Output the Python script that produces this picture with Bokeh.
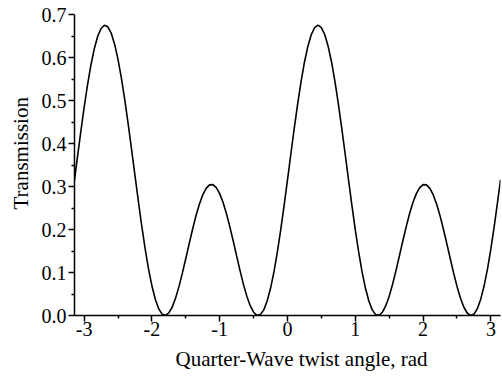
from bokeh.plotting import figure
from bokeh.models import Range1d, Title, FixedTicker, PrintfTickFormatter
from bokeh.embed import file_html
from bokeh.resources import INLINE

# Quarter-wave twist angle (rad) and transmission
angle = [-3.1416, -3.10, -3.05, -3.00, -2.95, -2.90, -2.85, -2.80, -2.75, -2.70,
         -2.65, -2.60, -2.55, -2.50, -2.45, -2.40, -2.35, -2.30, -2.25, -2.20,
         -2.15, -2.10, -2.05, -2.00, -1.95, -1.90, -1.85, -1.80, -1.75, -1.70,
         -1.65, -1.60, -1.55, -1.50, -1.45, -1.40, -1.35, -1.30, -1.25, -1.20,
         -1.15, -1.10, -1.05, -1.00, -0.95, -0.90, -0.85, -0.80, -0.75, -0.70,
         -0.65, -0.60, -0.55, -0.50, -0.45, -0.40, -0.35, -0.30, -0.25, -0.20,
         -0.15, -0.10, -0.05, 0.00, 0.05, 0.10, 0.15, 0.20, 0.25, 0.30,
         0.35, 0.40, 0.45, 0.50, 0.55, 0.60, 0.65, 0.70, 0.75, 0.80,
         0.85, 0.90, 0.95, 1.00, 1.05, 1.10, 1.15, 1.20, 1.25, 1.30,
         1.35, 1.40, 1.45, 1.50, 1.55, 1.60, 1.65, 1.70, 1.75, 1.80,
         1.85, 1.90, 1.95, 2.00, 2.05, 2.10, 2.15, 2.20, 2.25, 2.30,
         2.35, 2.40, 2.45, 2.50, 2.55, 2.60, 2.65, 2.70, 2.75, 2.80,
         2.85, 2.90, 2.95, 3.00, 3.05, 3.10, 3.1416]
transmission = [0.3156, 0.3661, 0.4259, 0.4832, 0.5358, 0.5820, 0.6202, 0.6490, 0.6675, 0.6750,
                0.6713, 0.6564, 0.6310, 0.5958, 0.5521, 0.5015, 0.4456, 0.3863, 0.3257, 0.2658,
                0.2085, 0.1555, 0.1086, 0.0691, 0.0379, 0.0159, 0.0033, 0.0001, 0.0060, 0.0198,
                0.0410, 0.0677, 0.0991, 0.1325, 0.1673, 0.2007, 0.2320, 0.2587, 0.2805, 0.2956,
                0.3037, 0.3044, 0.2975, 0.2834, 0.2628, 0.2366, 0.2061, 0.1728, 0.1383, 0.1044,
                0.0724, 0.0450, 0.0229, 0.0076, 0.0005, 0.0021, 0.0131, 0.0336, 0.0632, 0.1014,
                0.1472, 0.1992, 0.2559, 0.3156, 0.3762, 0.4358, 0.4924, 0.5441, 0.5890, 0.6257,
                0.6529, 0.6696, 0.6752, 0.6696, 0.6529, 0.6257, 0.5890, 0.5441, 0.4924, 0.4358,
                0.3762, 0.3156, 0.2559, 0.1992, 0.1472, 0.1014, 0.0632, 0.0336, 0.0131, 0.0021,
                0.0005, 0.0076, 0.0229, 0.0450, 0.0727, 0.1044, 0.1383, 0.1728, 0.2061, 0.2366,
                0.2628, 0.2834, 0.2975, 0.3044, 0.3037, 0.2956, 0.2804, 0.2587, 0.2317, 0.2007,
                0.1670, 0.1325, 0.0988, 0.0677, 0.0409, 0.0198, 0.0058, 0.0001, 0.0033, 0.0159,
                0.0380, 0.0691, 0.1086, 0.1555, 0.2085, 0.2658, 0.3156]

x_ticks = [-3, -2, -1, 0, 1, 2, 3]
y_ticks = [0.0, 0.1, 0.2, 0.3, 0.4, 0.5, 0.6, 0.7]
x_title = "Quarter-Wave twist angle, rad"
y_title = "Transmission"

FONT = "Liberation Serif"

p = figure(width=502, height=378, output_backend="svg", toolbar_location=None,
           x_range=Range1d(-3.1416, 3.1416), y_range=Range1d(0, 0.7),
           min_border_left=74, min_border_right=2, min_border_top=14, min_border_bottom=63)
p.title.visible = False
p.outline_line_color = None
p.background_fill_color = "white"
p.border_fill_color = "white"
p.xgrid.visible = False
p.ygrid.visible = False

p.line(angle, transmission, line_color="black", line_width=1.6)

for ax in (p.xaxis[0], p.yaxis[0]):
    ax.axis_line_color = "black"
    ax.axis_line_width = 1.5
    ax.major_tick_line_color = "black"
    ax.minor_tick_line_color = "black"
    ax.major_tick_line_width = 1.5
    ax.minor_tick_line_width = 1.5
    ax.major_tick_in = 0
    ax.major_tick_out = 6
    ax.minor_tick_in = 0
    ax.minor_tick_out = 3
    ax.major_label_text_font = FONT
    ax.major_label_text_font_size = "20px"
    ax.major_label_text_color = "black"

p.xaxis[0].ticker = FixedTicker(ticks=x_ticks, minor_ticks=[-2.5, -1.5, -0.5, 0.5, 1.5, 2.5])
p.xaxis[0].formatter = PrintfTickFormatter(format="%d")
p.xaxis[0].major_label_standoff = 0
p.yaxis[0].ticker = FixedTicker(ticks=y_ticks,
                                minor_ticks=[0.05, 0.15, 0.25, 0.35, 0.45, 0.55, 0.65])
p.yaxis[0].formatter = PrintfTickFormatter(format="%.1f")
p.yaxis[0].major_label_standoff = 2

p.add_layout(Title(text=x_title, align="left", offset=101, standoff=13,
                   text_font=FONT, text_font_size="21px", text_font_style="normal",
                   text_color="black"), "below")
p.add_layout(Title(text=y_title, align="left", offset=106, standoff=12,
                   text_font=FONT, text_font_size="21px", text_font_style="normal",
                   text_color="black"), "left")

open("out.html", "w").write(file_html(p, INLINE))
